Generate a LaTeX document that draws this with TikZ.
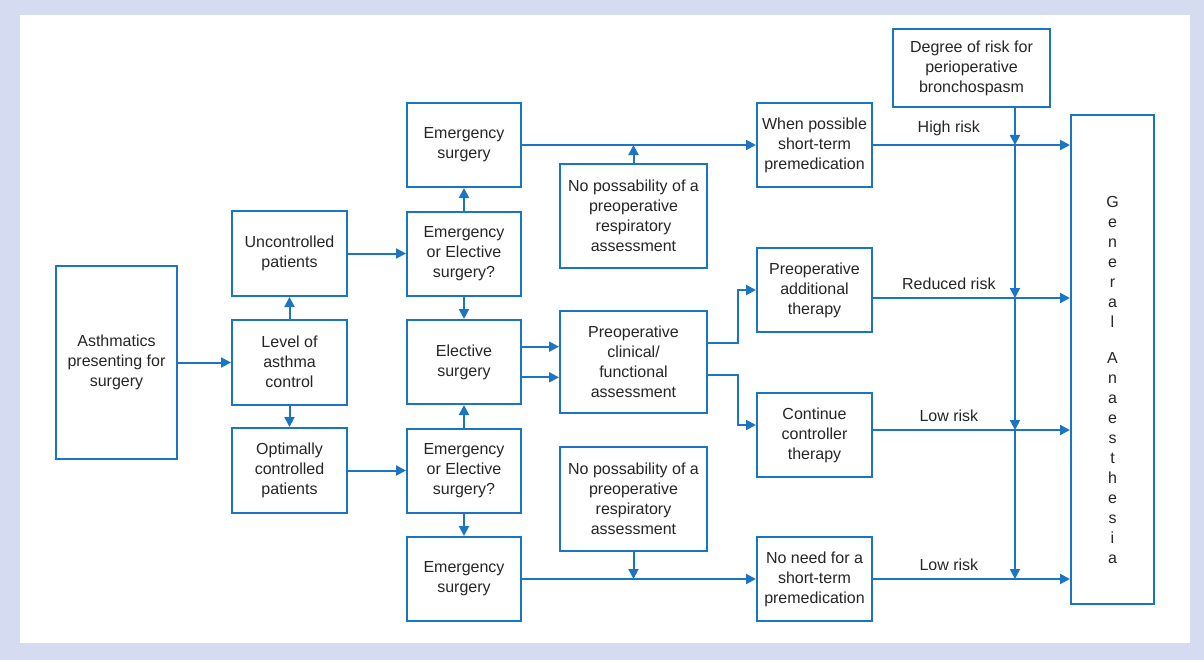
\documentclass[tikz,border=0pt]{standalone}
\usepackage{fontspec}
\setmainfont{Liberation Sans}
\usetikzlibrary{arrows.meta}
\definecolor{flowblue}{RGB}{28,117,196}
\definecolor{framelav}{RGB}{213,220,242}

\begin{document}
\begin{tikzpicture}[x=0.75pt,y=-0.75pt]
	\fill[framelav] (0,0) rectangle (1204,660);
	\fill[white] (20,15) rectangle (1190,643);
	\useasboundingbox (0,0) rectangle (1204,660);

	\tikzstyle every node=[font=\fontsize{12}{15}\selectfont, text=black!85, align=center]
	\tikzstyle box=[draw=flowblue, line width=1.5pt, fill=white, inner sep=2pt]
	\tikzstyle colA=[box, minimum width=86.25pt, minimum height=63.75pt]
	\tikzstyle colB=[box, minimum width=85.5pt, minimum height=63pt]
	\tikzstyle colC=[box, minimum width=110.25pt, minimum height=78pt]
	\tikzstyle colD=[box, minimum width=86.25pt, minimum height=63pt]
	\tikzstyle arr=[draw=flowblue, line width=1.5pt, -{Triangle[length=7.5pt,width=7.5pt]}]
	\tikzstyle risklbl=[above=2.5pt, pos=.385]

	\node[box, minimum width=90.75pt, minimum height=144.75pt] (asth) at (116.5,362.5) {Asthmatics\\presenting for\\surgery};
	\node[colA] (unc) at (289.5,253.5) {Uncontrolled\\patients};
	\node[colA] (level) at (289.5,362) {Level of\\asthma\\control};
	\node[colA] (opt) at (289.5,470.5) {Optimally\\controlled\\patients};

	\node[colB] (emg1) at (464,145) {Emergency\\surgery};
	\node[colB] (eoe1) at (464,253.5) {Emergency\\or Elective\\surgery?};
	\node[colB] (elec) at (464,362) {Elective\\surgery};
	\node[colB] (eoe2) at (464,470.5) {Emergency\\or Elective\\surgery?};
	\node[colB] (emg2) at (464,579) {Emergency\\surgery};

	\node[colC] (nopos1) at (633.5,216) {No possability of a\\preoperative\\respiratory\\assessment};
	\node[colC, minimum height=76.5pt] (preop) at (633.5,362) {Preoperative\\clinical/\\functional\\assessment};
	\node[colC] (nopos2) at (633.5,499) {No possability of a\\preoperative\\respiratory\\assessment};

	\node[colD] (when) at (814.5,145) {When possible\\short-term\\premedication};
	\node[colD] (addl) at (814.5,290) {Preoperative\\additional\\therapy};
	\node[colD] (cont) at (814.5,435) {Continue\\controller\\therapy};
	\node[colD] (noneed) at (814.5,579) {No need for a\\short-term\\premedication};

	\node[box, minimum width=117.75pt, minimum height=58.5pt] (risk) at (971.5,68) {Degree of risk for\\perioperative\\bronchospasm};
	\node[box, minimum width=62.25pt, minimum height=366.75pt, label={[yshift=-15pt]center:{G\\e\\n\\e\\r\\a\\l\\[12pt]A\\n\\a\\e\\s\\t\\h\\e\\s\\i\\a}}] (ga) at (1112.5,359.5) {};

	\draw[arr] (asth) -- (asth -| level.west);
	\draw[arr] (level) -- (unc);
	\draw[arr] (level) -- (opt);
	\draw[arr] (unc) -- (eoe1);
	\draw[arr] (opt) -- (eoe2);
	\draw[arr] (eoe1) -- (emg1);
	\draw[arr] (eoe1) -- (elec);
	\draw[arr] (eoe2) -- (elec);
	\draw[arr] (eoe2) -- (emg2);

	\draw[arr] (emg1) -- (when);
	\draw[arr] (nopos1) -- (nopos1 |- emg1);
	\draw[arr] (emg2) -- (noneed);
	\draw[arr] (nopos2) -- (nopos2 |- emg2);

	\draw[arr] ([yshift=11.5pt]elec.east) -- ([yshift=11.5pt]preop.west);
	\draw[arr] ([yshift=-11.5pt]elec.east) -- ([yshift=-11.5pt]preop.west);
	\draw[arr] ([yshift=14pt]preop.east) -- ++(22.5pt,0) |- (addl);
	\draw[arr] ([yshift=-10pt]preop.east) -- ++(22.5pt,0) |- ([yshift=7.5pt]cont.west);

	\path ([yshift=-6pt]addl.east) coordinate (out2) ([yshift=3.75pt]cont.east) coordinate (out3) ([xshift=32.6pt]risk.south) coordinate (rk);
	\draw[arr] (when) -- (when -| ga.west) node[risklbl]{High risk};
	\draw[arr] (out2) -- (out2 -| ga.west) node[risklbl]{Reduced risk};
	\draw[arr] (out3) -- (out3 -| ga.west) node[risklbl]{Low risk};
	\draw[arr] (noneed) -- (noneed -| ga.west) node[risklbl]{Low risk};

	\draw[arr] (rk) -- (rk |- when);
	\draw[arr] (rk |- when) -- (rk |- out2);
	\draw[arr] (rk |- out2) -- (rk |- out3);
	\draw[arr] (rk |- out3) -- (rk |- noneed);
\end{tikzpicture}
\end{document}
